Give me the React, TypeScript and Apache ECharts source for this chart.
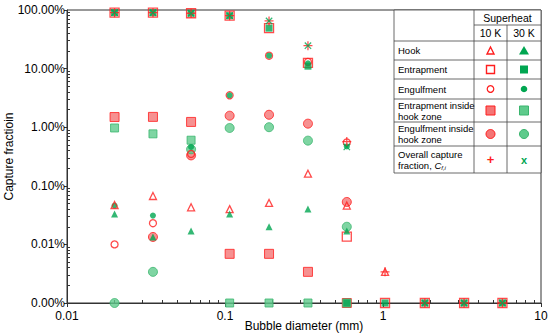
import React, { useEffect, useRef } from "react";
import * as echarts from "echarts";

// Bubble diameters (mm)
const diameters = [0.02, 0.035, 0.061, 0.107, 0.19, 0.335, 0.59, 1.03, 1.84, 3.26, 5.7];

// Capture fractions in percent; 0 = zero (drawn on the 0.00% floor), null = no mark
const hook10 = [0.047, 0.067, 0.043, 0.04, 0.051, 0.161, 0.046, 0.0034, null, null, null];
const hook30 = [0.033, 0.0134, 0.017, 0.033, 0.02, 0.04, 0.017, null, null, null, null];
const entrapment10 = [90, 90, 88, 80, 49, 12.5, 0.0136, 0, 0, 0, 0];
const entrapment30 = [90, 90, 88, 80, 49, 11, 0, 0, 0, 0, 0];
const engulfment10 = [0.01, 0.023, 0.35, 3.5, 16.6, 13, 0.55, null, null, null, null];
const engulfment30 = [0.046, 0.031, 0.46, 3.5, 16.6, 12.3, 0.47, null, null, null, null];
const entInHook10 = [1.49, 1.5, 1.23, 0.0069, 0.0069, 0.0034, 0, null, null, null, null];
const entInHook30 = [0.97, 0.77, 0.6, 0, 0, 0, 0, null, null, null, null];
const engInHook10 = [null, 0.0134, 0.33, 1.57, 1.63, 1.15, 0.053, null, null, null, null];
const engInHook30 = [0, 0.0034, 0.42, 0.97, 1.0, 0.59, 0.02, null, null, null, null];
const overall10 = [90, 90, 88, 80, 65, 24.6, 0.57, 0.0034, 0, 0, 0];
const overall30 = [90, 90, 88, 80, 65, 24.6, 0.46, null, 0, 0, 0];

const xTickLabels = ["0.01", "0.1", "1", "10"];
const yMin = 1e-5;
const yMax = 1;

const RED = "#ff1e1e";
const GREEN = "#00a651";
const LRED = "#f47575";
const LGREEN = "#5fcb8c";
const FONT = "Liberation Sans, Arial, Helvetica, sans-serif";

const PLUS = "path://M4.3,0h1.4v4.3h4.3v1.4h-4.3v4.3h-1.4v-4.3h-4.3v-1.4h4.3z";

function toData(vals: (number | null)[]) {
  const out: [number, number][] = [];
  vals.forEach((v, i) => {
    if (v === null) return;
    out.push([diameters[i], v === 0 ? yMin : v / 100]);
  });
  return out;
}

function minorTicks(lo: number, hi: number) {
  const res: number[] = [];
  for (let d = lo; d < hi; d++) {
    for (let k = 2; k <= 9; k++) res.push(parseFloat((k * Math.pow(10, d)).toPrecision(3)));
  }
  return res;
}

export default function App() {
  const ref = useRef<HTMLDivElement>(null);
  useEffect(() => {
    if (!ref.current) return;
    const chart = echarts.init(ref.current, undefined, { renderer: "svg" });

    const L = 394, R = 541, C1 = 474, C2 = 507;
    const ys = [10, 25, 41, 60, 79, 99, 122, 146, 173];
    const cx10 = (C1 + C2) / 2;
    const cx30 = (C2 + R) / 2;
    const mid = (i: number) => (ys[i] + ys[i + 1]) / 2;
    const lineStyle = { stroke: "#444", lineWidth: 0.8 };
    const hl = (y: number, x1: number, x2: number) => ({
      type: "line", shape: { x1, y1: y, x2, y2: y }, style: lineStyle, z: 101,
    });
    const vl = (x: number, y1: number, y2: number) => ({
      type: "line", shape: { x1: x, y1, x2: x, y2 }, style: lineStyle, z: 101,
    });
    const label = (t: string, y: number) => ({
      type: "text", x: L + 4, y, z: 102,
      style: { text: t, fontSize: 9.5, fontFamily: FONT, fill: "#000", verticalAlign: "middle", lineHeight: 11 },
    });
    const ctext = (t: string, x: number, y: number, size: number, color = "#000", weight = "normal") => ({
      type: "text", x, y, z: 102,
      style: { text: t, fontSize: size, fontFamily: FONT, fill: color, align: "center", verticalAlign: "middle", fontWeight: weight },
    });

    const graphic: any[] = [
      { type: "rect", shape: { x: L, y: ys[0], width: R - L, height: ys[8] - ys[0] }, style: { fill: "#fff", stroke: "#444", lineWidth: 0.8 }, z: 100 },
      hl(ys[1], C1, R),
      ...[2, 3, 4, 5, 6, 7].map((i) => hl(ys[i], L, R)),
      vl(C1, ys[0], ys[8]),
      vl(C2, ys[1], ys[8]),
      ctext("Superheat", (C1 + R) / 2, mid(0), 10.5),
      ctext("10 K", cx10, mid(1), 10.5),
      ctext("30 K", cx30, mid(1), 10.5),
      label("Hook", mid(2)),
      label("Entrapment", mid(3)),
      label("Engulfment", mid(4)),
      label("Entrapment inside\nhook zone", mid(5)),
      label("Engulfment inside\nhook zone", mid(6)),
      {
        type: "text", x: L + 4, y: mid(7), z: 102,
        style: {
          text: "Overall capture\nfraction, {i|C}{s|f,i}",
          fontSize: 9.5, fontFamily: FONT, fill: "#000", verticalAlign: "middle", lineHeight: 11,
          rich: {
            i: { fontStyle: "italic", fontSize: 9.5, fontFamily: FONT },
            s: { fontStyle: "italic", fontSize: 6, fontFamily: FONT, verticalAlign: "bottom", padding: [4, 0, 0, 0] },
          },
        },
      },
      // legend symbols
      { type: "polygon", shape: { points: [[cx10 - 3.5, mid(2) + 3.5], [cx10 + 3.5, mid(2) + 3.5], [cx10, mid(2) - 3.5]] }, style: { fill: "none", stroke: RED, lineWidth: 1.4 }, z: 103 },
      { type: "polygon", shape: { points: [[cx30 - 5, mid(2) + 4], [cx30 + 5, mid(2) + 4], [cx30, mid(2) - 4.5]] }, style: { fill: GREEN }, z: 103 },
      { type: "rect", shape: { x: cx10 - 4, y: mid(3) - 4, width: 8, height: 8 }, style: { fill: "none", stroke: RED, lineWidth: 1.4 }, z: 103 },
      { type: "rect", shape: { x: cx30 - 4, y: mid(3) - 4, width: 8, height: 8 }, style: { fill: GREEN }, z: 103 },
      { type: "circle", shape: { cx: cx10, cy: mid(4), r: 3.3 }, style: { fill: "none", stroke: RED, lineWidth: 1.2 }, z: 103 },
      { type: "circle", shape: { cx: cx30, cy: mid(4), r: 3.3 }, style: { fill: GREEN }, z: 103 },
      { type: "rect", shape: { x: cx10 - 4.5, y: mid(5) - 4.5, width: 9, height: 9 }, style: { fill: LRED, stroke: RED, lineWidth: 1 }, z: 103 },
      { type: "rect", shape: { x: cx30 - 4.5, y: mid(5) - 4.5, width: 9, height: 9 }, style: { fill: LGREEN, stroke: "#3bb56e", lineWidth: 1 }, z: 103 },
      { type: "circle", shape: { cx: cx10, cy: mid(6), r: 4.5 }, style: { fill: LRED, stroke: RED, lineWidth: 1 }, z: 103 },
      { type: "circle", shape: { cx: cx30, cy: mid(6), r: 4.5 }, style: { fill: LGREEN, stroke: "#3bb56e", lineWidth: 1 }, z: 103 },
      ctext("+", cx10, mid(7), 13, RED, "bold"),
      ctext("x", cx30, mid(7), 11, GREEN, "bold"),
    ];

    const sc = (name: string, vals: (number | null)[], symbol: string, size: number, itemStyle: any, rotate = 0) => ({
      name, type: "scatter", data: toData(vals), symbol, symbolSize: size, symbolRotate: rotate,
      itemStyle, xAxisIndex: 0, yAxisIndex: 0,
    });

    const openRed = { color: "rgba(0,0,0,0)", borderColor: RED, borderWidth: 1.3 };

    const option: any = {
      animation: false,
      grid: {
        left: 67, right: 9, top: 10, bottom: 33, show: true, borderColor: "#333", borderWidth: 1,
        backgroundColor: "transparent", containLabel: false, outerBoundsMode: "none",
      },
      xAxis: [
        {
          type: "log", logBase: 10, min: 0.01, max: 10,
          name: "Bubble diameter (mm)", nameLocation: "middle", nameGap: 17, nameMoveOverlap: false,
          nameTextStyle: { fontSize: 12, fontFamily: FONT, color: "#000" },
          axisLine: { show: true, lineStyle: { color: "#333", width: 1 } },
          axisTick: { show: true, length: 4, inside: false, lineStyle: { color: "#333" } },
          axisLabel: {
            fontSize: 12, fontFamily: FONT, color: "#000", margin: 7,
            formatter: (v: number) => xTickLabels[Math.round(Math.log10(v)) + 2] ?? String(v),
          },
          splitLine: { show: false },
        },
        {
          type: "log", logBase: 10, min: 0.01, max: 10, gridIndex: 0, position: "bottom",
          axisLine: { show: false },
          axisTick: { show: true, inside: true, length: 3, customValues: minorTicks(-2, 1), lineStyle: { color: "#333" } },
          axisLabel: { show: false },
          splitLine: { show: false },
        },
      ],
      yAxis: [
        {
          type: "log", logBase: 10, min: yMin, max: yMax,
          name: "Capture fractioin", nameLocation: "middle", nameGap: 52, nameMoveOverlap: false,
          nameTextStyle: { fontSize: 12, fontFamily: FONT, color: "#000" },
          axisLine: { show: true, lineStyle: { color: "#333", width: 1 } },
          axisTick: { show: true, length: 3, inside: false, lineStyle: { color: "#333" } },
          axisLabel: {
            fontSize: 12, fontFamily: FONT, color: "#000", margin: 2,
            formatter: (v: number) => (v * 100).toFixed(2) + "%",
          },
          splitLine: { show: false },
        },
        {
          type: "log", logBase: 10, min: yMin, max: yMax, gridIndex: 0, position: "left",
          axisLine: { show: false },
          axisTick: { show: true, inside: true, length: 3, customValues: minorTicks(-5, 0), lineStyle: { color: "#333" } },
          axisLabel: { show: false },
          splitLine: { show: false },
        },
      ],
      series: [
        sc("Entrapment inside hook zone 10 K", entInHook10, "rect", 9, { color: LRED, borderColor: RED, borderWidth: 1 }),
        sc("Entrapment inside hook zone 30 K", entInHook30, "rect", 8, { color: LGREEN, borderColor: "#3bb56e", borderWidth: 1 }),
        sc("Engulfment inside hook zone 10 K", engInHook10, "circle", 9, { color: LRED, borderColor: RED, borderWidth: 1 }),
        sc("Engulfment inside hook zone 30 K", engInHook30, "circle", 9, { color: LGREEN, borderColor: "#3bb56e", borderWidth: 1 }),
        sc("Entrapment 10 K", entrapment10, "rect", 9, openRed),
        sc("Entrapment 30 K", entrapment30, "rect", 7, { color: GREEN }),
        sc("Engulfment 10 K", engulfment10, "circle", 7, openRed),
        sc("Engulfment 30 K", engulfment30, "circle", 6, { color: GREEN }),
        sc("Hook 10 K", hook10, "triangle", 7, openRed),
        sc("Hook 30 K", hook30, "triangle", 7, { color: GREEN }),
        sc("Overall 10 K", overall10, PLUS, 9, { color: RED }),
        sc("Overall 30 K", overall30, PLUS, 9, { color: GREEN }, 45),
      ],
      graphic,
    };
    chart.setOption(option);
    return () => chart.dispose();
  }, []);
  return <div ref={ref} style={{ width: 550, height: 336, position: "absolute", left: 0, top: 0 }} />;
}
